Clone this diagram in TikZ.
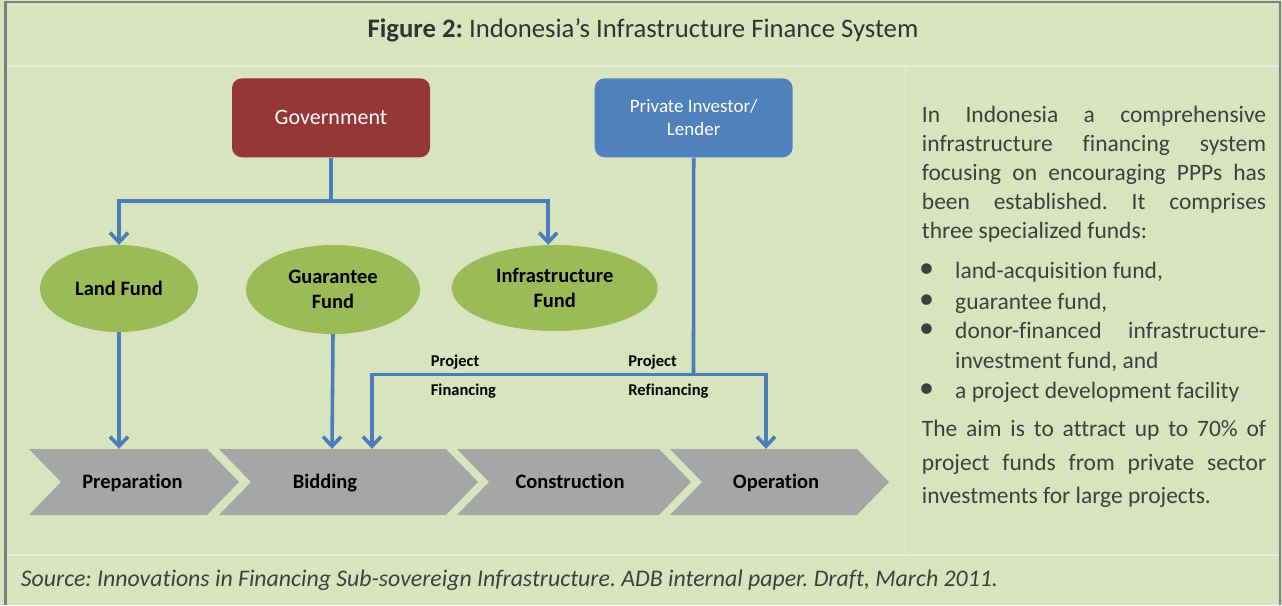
\documentclass[tikz,border=0pt]{standalone}
\usepackage{fontspec}
\setmainfont{Carlito}[Ligatures=NoCommon]
\usetikzlibrary{arrows.meta,shapes.geometric}
\frenchspacing

\definecolor{panelbg}{HTML}{D7E4BD}
\definecolor{framegray}{HTML}{7F7F7F}
\definecolor{gridline}{HTML}{E6EED8}
\definecolor{govred}{HTML}{953735}
\definecolor{privblue}{HTML}{4F81BD}
\definecolor{linkblue}{HTML}{4A7EBB}
\definecolor{fundgreen}{HTML}{9BBB59}
\definecolor{stagegray}{HTML}{A6A6A6}
\definecolor{bodygray}{HTML}{3F3F3F}
\definecolor{titlegray}{HTML}{333333}

\tikzset{
  frame/.style={draw=framegray, line width=2.5pt},
  gridrule/.style={draw=gridline, line width=1.2pt},
  actor/.style={rounded corners=10pt, minimum width=198pt, minimum height=79pt,
    text=white, align=center, inner sep=0pt},
  fund/.style={ellipse, fill=fundgreen, inner sep=0pt, align=center,
    font=\bfseries\fontsize{20.5}{24.5}\selectfont},
  stage/.style={fill=stagegray},
  stagelabel/.style={minimum height=66pt, inner sep=0pt, text height=13.2pt,
    text depth=0pt, font=\bfseries\fontsize{20.5}{24}\selectfont},
  conn/.style={draw=linkblue, line width=3.6pt},
  arr/.style={conn, -{Straight Barb[length=9.5pt,width=18pt]}},
  flowlabel/.style={anchor=base west, inner sep=0pt,
    font=\bfseries\fontsize{16.5}{20}\selectfont},
  body/.style={anchor=base west, inner sep=0pt, text=bodygray,
    font=\fontsize{23.5}{28}\selectfont},
  bullet/.style={inner sep=0pt, text=bodygray, font=\fontsize{30}{30}\selectfont},
}

\begin{document}
\begin{tikzpicture}[x=1pt,y=-1pt]
\useasboundingbox (0,0) rectangle (1282,605);
\fill[panelbg] (0,0) rectangle (1282,605);

% table rules and outer frame
\draw[gridrule] (6,66) -- (1279,66);
\draw[gridrule] (6,555) -- (1279,555);
\draw[gridrule] (905.5,66) -- (905.5,555);
\draw[frame] (5.5,605) -- (5.5,2) -- (1280,2) -- (1280,605);

% title
\node[text=titlegray, font=\fontsize{26.7}{30}\selectfont, anchor=base, inner sep=0pt]
  (title) at (643,37.3) {\textbf{Figure 2:} Indonesia’s Infrastructure Finance System};

% actors
\node[actor, fill=govred, font=\fontsize{22}{26}\selectfont] (gov) at (331,117.8) {Government};
\node[actor, fill=privblue, font=\fontsize{19}{23}\selectfont] (priv) at (693.7,117.8)
  {Private Investor/\\Lender};

% funds
\node[fund, minimum width=158pt, minimum height=87pt] (land) at (119,288.5) {Land Fund};
\node[fund, minimum width=174pt, minimum height=89pt] (guar) at (333,289.5) {Guarantee\\Fund};
\node[fund, minimum width=206pt, minimum height=86pt] (infra) at (554.7,288) {Infrastructure\\Fund};

% project stages (chevrons)
\fill[stage] (29,449) -- (207,449) -- (239,482) -- (207,515) -- (29,515) -- (61,482) -- cycle;
\fill[stage] (219,449) -- (446,449) -- (478,482) -- (446,515) -- (219,515) -- (251,482) -- cycle;
\fill[stage] (457,449) -- (659,449) -- (691,482) -- (659,515) -- (457,515) -- (489,482) -- cycle;
\fill[stage] (670,449) -- (857,449) -- (889,482) -- (857,515) -- (670,515) -- (702,482) -- cycle;
\node[stagelabel] (prep) at (132.5,482) {Preparation};
\node[stagelabel] (bid) at (325,482) {Bidding};
\node[stagelabel] (cons) at (570,482) {Construction};
\node[stagelabel] (oper) at (776,482) {Operation};

% government to funds
\coordinate (gj) at (331,201);
\draw[conn] (gov.south) -- (gj);
\draw[arr] (gj) -| (land.north);
\draw[arr] (gj) -| ([xshift=-6.5pt]infra.north);

% funds to stages
\draw[arr] (land.south) -- (land.south |- prep.north);
\draw[arr] (guar.south) -- ([xshift=-1pt]guar.south |- bid.north);

% private investor to stages
\coordinate (pj) at (693.5,374.5);
\draw[conn] (priv.south) -- (pj);
\draw[arr] (pj) -| ([xshift=47pt]bid.north);
\draw[arr] (pj) -| ([xshift=-10pt]oper.north);

\node[flowlabel] (pf1) at (430.7,366) {Project};
\node[flowlabel] (pf2) at (430.7,395) {Financing};
\node[flowlabel] (pr1) at (628.2,366) {Project};
\node[flowlabel] (pr2) at (628.2,395) {Refinancing};

% description
\node[body] (d1) at (921.7,122.7) {\makebox[344.3pt][s]{In Indonesia a comprehensive}};
\node[body] (d2) at (921.7,151.7) {\makebox[344.3pt][s]{infrastructure financing system}};
\node[body] (d3) at (921.7,180.7) {\makebox[344.3pt][s]{focusing on encouraging PPPs has}};
\node[body] (d4) at (921.7,209.7) {\makebox[344.3pt][s]{been established. It comprises}};
\node[body] (d5) at (921.7,238.7) {three specialized funds:};

\node[bullet] (k1) at (926.7,271) {•};
\node[bullet] (k2) at (926.7,302) {•};
\node[bullet] (k3) at (926.7,331) {•};
\node[bullet] (k4) at (926.7,391) {•};
\node[body] (i1) at (955,278.3) {land-acquisition fund,};
\node[body] (i2) at (955,309.3) {guarantee fund,};
\node[body] (i3) at (955,338.3) {\makebox[311pt][s]{donor-financed infrastructure-}};
\node[body] (i3b) at (955,368.3) {investment fund, and};
\node[body] (i4) at (955,398.3) {a project development facility};

\node[body] (e1) at (921.7,436.7) {\makebox[344.3pt][s]{The aim is to attract up to 70\% of}};
\node[body] (e2) at (921.7,470) {\makebox[344.3pt][s]{project funds from private sector}};
\node[body] (e3) at (921.7,503.3) {investments for large projects.};

% source
\node[anchor=base west, inner sep=0pt, text=bodygray, font=\itshape\fontsize{23.8}{28}\selectfont]
  (src) at (20.7,586) {Source: Innovations in Financing Sub-sovereign Infrastructure. ADB internal paper. Draft, March 2011.};
\end{tikzpicture}
\end{document}
